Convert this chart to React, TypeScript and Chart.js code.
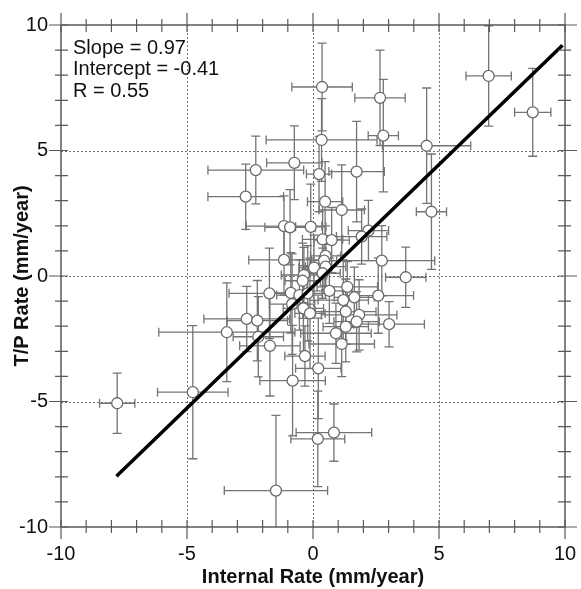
import React, { useEffect, useRef } from "react";
import { Chart, registerables } from "chart.js";

Chart.register(...registerables);

// Internal rate (x) and T/P rate (y), mm/year, with their 1-sigma errors
const internalRate = [
  6.97, 8.72, 0.36, 2.66, 2.79, 0.34, 4.51, -0.74, -2.27, 0.24,
  1.73, -2.67, 0.48, 1.14, 4.7, -1.15, -0.91, -0.09, 2.2, 1.93,
  0.38, 0.74, -1.15, 2.73, 0.5, 0.44, 0.5, 0.04, 0.38, -0.36,
  3.68, -0.41, 1.36, 0.65, -1.73, -0.88, -0.54, -0.21, 2.59, 1.64,
  1.2, -0.83, -0.38, -0.12, 1.3, 1.83, -2.63, -2.21, 1.73, 3.02,
  1.3, -3.42, -2.17, 0.91, -1.71, -0.32, 0.21, -0.81, 1.14, 0.83,
  0.19, -1.47, -7.77, -4.77,
];
const tpRate = [
  7.97, 6.52, 7.53, 7.1, 5.59, 5.42, 5.19, 4.51, 4.22, 4.06,
  4.16, 3.16, 2.96, 2.63, 2.56, 1.99, 1.94, 1.96, 1.81, 1.57,
  1.46, 1.43, 0.64, 0.61, 0.8, 0.61, 0.37, 0.33, 0.11, 0.04,
  -0.05, -0.19, -0.43, -0.59, -0.69, -0.67, -0.76, -0.69, -0.78, -0.85,
  -0.96, -1.12, -1.29, -1.49, -1.42, -1.55, -1.71, -1.78, -1.82, -1.92,
  -2.02, -2.24, -2.42, -2.28, -2.78, -3.19, -3.68, -4.17, -2.71, -6.24,
  -6.49, -8.55, -5.07, -4.63,
];
const internalErr = [
  0.9, 0.72, 1.2, 1.0, 0.6, 2.2, 1.75, 1.1, 1.9, 0.5,
  1.1, 1.5, 0.7, 0.9, 0.6, 1.5, 1.0, 0.6, 0.8, 1.0,
  0.8, 0.7, 1.4, 2.1, 0.6, 0.5, 0.8, 0.6, 0.7, 0.9,
  0.8, 0.7, 1.2, 0.9, 1.6, 0.8, 0.9, 0.7, 1.4, 0.8,
  1.0, 0.9, 0.8, 0.6, 1.2, 1.5, 1.7, 1.2, 0.9, 1.4,
  0.9, 2.7, 1.0, 1.4, 1.2, 0.8, 0.9, 1.3, 1.3, 1.5,
  1.07, 2.05, 0.7, 1.4,
];
const tpErr = [
  2.0, 1.75, 1.75, 1.9, 2.24, 1.65, 2.3, 1.47, 1.35, 1.5,
  2.0, 1.3, 1.6, 1.8, 2.3, 1.2, 1.5, 1.7, 1.2, 1.1,
  1.5, 1.3, 1.4, 1.4, 1.2, 1.0, 0.9, 1.3, 1.0, 1.1,
  1.2, 1.5, 1.0, 1.3, 1.8, 1.6, 1.4, 1.9, 1.5, 1.2,
  1.6, 2.0, 1.7, 2.2, 1.3, 1.4, 1.3, 1.6, 1.2, 0.9,
  1.4, 1.97, 1.6, 1.2, 2.0, 1.2, 2.0, 2.2, 1.3, 1.14,
  1.9, 3.0, 1.2, 2.65,
];

const fitSlope = 0.97;
const fitIntercept = -0.41;
const fitR = 0.55;
const fitRangeX = [-7.8, 9.9];

const axisMin = -10;
const axisMax = 10;
const labelStep = 5;
const gridValues = [-5, 0, 5];
const statLines = [
  `Slope = ${fitSlope.toFixed(2)}`,
  `Intercept = ${fitIntercept.toFixed(2)}`,
  `R = ${fitR.toFixed(2)}`,
];
const xTitle = "Internal Rate (mm/year)";
const yTitle = "T/P Rate (mm/year)";

const FONT = "'Liberation Sans', Arial, Helvetica, sans-serif";

const decorPlugin = {
  id: "decor",
  beforeDatasetsDraw(chart: any) {
    const { ctx, chartArea: a, scales } = chart;
    const xs = scales.x;
    const ys = scales.y;
    ctx.save();
    ctx.beginPath();
    ctx.rect(a.left, a.top, a.right - a.left, a.bottom - a.top);
    ctx.clip();
    // dotted grid
    ctx.strokeStyle = "#707070";
    ctx.lineWidth = 1;
    ctx.setLineDash([2, 2]);
    for (const v of gridValues) {
      const px = Math.round(xs.getPixelForValue(v)) + 0.5;
      ctx.beginPath();
      ctx.moveTo(px, a.top);
      ctx.lineTo(px, a.bottom);
      ctx.stroke();
      const py = Math.round(ys.getPixelForValue(v)) + 0.5;
      ctx.beginPath();
      ctx.moveTo(a.left, py);
      ctx.lineTo(a.right, py);
      ctx.stroke();
    }
    ctx.setLineDash([]);
    // error bars
    ctx.strokeStyle = "#747474";
    ctx.lineWidth = 1.3;
    const cap = 4.5;
    for (let i = 0; i < internalRate.length; i++) {
      const xv = internalRate[i];
      const yv = tpRate[i];
      const px = xs.getPixelForValue(xv);
      const py = ys.getPixelForValue(yv);
      const x0 = xs.getPixelForValue(xv - internalErr[i]);
      const x1 = xs.getPixelForValue(xv + internalErr[i]);
      const y0 = ys.getPixelForValue(yv - tpErr[i]);
      const y1 = ys.getPixelForValue(yv + tpErr[i]);
      ctx.beginPath();
      ctx.moveTo(x0, py);
      ctx.lineTo(x1, py);
      ctx.moveTo(x0, py - cap);
      ctx.lineTo(x0, py + cap);
      ctx.moveTo(x1, py - cap);
      ctx.lineTo(x1, py + cap);
      ctx.moveTo(px, y0);
      ctx.lineTo(px, y1);
      ctx.moveTo(px - cap, y0);
      ctx.lineTo(px + cap, y0);
      ctx.moveTo(px - cap, y1);
      ctx.lineTo(px + cap, y1);
      ctx.stroke();
    }
    ctx.restore();
  },
  afterDraw(chart: any) {
    const { ctx, chartArea: a, scales } = chart;
    const xs = scales.x;
    const ys = scales.y;
    ctx.save();
    ctx.strokeStyle = "#5a5a5a";
    ctx.lineWidth = 1.5;
    ctx.strokeRect(a.left, a.top, a.right - a.left, a.bottom - a.top);
    ctx.lineWidth = 1.2;
    ctx.beginPath();
    for (let v = axisMin; v <= axisMax; v++) {
      const major = v % labelStep === 0;
      const out = major ? 12 : 6;
      const inn = 7;
      const px = xs.getPixelForValue(v);
      const py = ys.getPixelForValue(v);
      ctx.moveTo(px, a.bottom - inn);
      ctx.lineTo(px, a.bottom + out);
      ctx.moveTo(px, a.top + inn);
      ctx.lineTo(px, a.top - out);
      ctx.moveTo(a.left + inn, py);
      ctx.lineTo(a.left - out, py);
      ctx.moveTo(a.right - inn, py);
      ctx.lineTo(a.right + out, py);
    }
    ctx.stroke();

    // stats text
    ctx.fillStyle = "#111";
    ctx.font = `20px ${FONT}`;
    ctx.textAlign = "left";
    ctx.textBaseline = "middle";
    statLines.forEach((t, i) => {
      ctx.fillText(t, a.left + 12, a.top + 23 + i * 21.5);
    });

    // axis titles
    ctx.font = `bold 20px ${FONT}`;
    ctx.textAlign = "center";
    ctx.fillText(xTitle, (a.left + a.right) / 2, 577);
    ctx.translate(22, (a.top + a.bottom) / 2);
    ctx.rotate(-Math.PI / 2);
    ctx.fillText(yTitle, 0, 0);
    ctx.restore();
  },
};

export default function App() {
  const canvasRef = useRef<HTMLCanvasElement | null>(null);

  useEffect(() => {
    if (!canvasRef.current) return;
    const points = internalRate.map((x, i) => ({ x, y: tpRate[i] }));
    const fitLine = fitRangeX.map((x) => ({ x, y: fitSlope * x + fitIntercept }));
    const tickFont = { family: FONT, size: 20 };
    const chart = new Chart(canvasRef.current, {
      type: "scatter",
      data: {
        datasets: [
          {
            type: "line",
            data: fitLine,
            borderColor: "#000",
            borderWidth: 3.5,
            pointRadius: 0,
            order: 0,
          } as any,
          {
            data: points,
            backgroundColor: "#ffffff",
            borderColor: "#6a6a6a",
            borderWidth: 1.3,
            pointRadius: 5.5,
            order: 1,
          },
        ],
      },
      options: {
        animation: false,
        responsive: false,
        devicePixelRatio: 1,
        layout: { padding: { left: 0, top: 25, right: 16, bottom: 0 } },
        plugins: { legend: { display: false }, tooltip: { enabled: false } },
        scales: {
          x: {
            type: "linear",
            min: axisMin,
            max: axisMax,
            ticks: { stepSize: labelStep, font: tickFont, color: "#111", padding: 15, maxRotation: 0 },
            grid: { display: false, drawTicks: false },
            border: { display: false },
            afterFit: (s: any) => {
              s.height = 62;
              s.paddingLeft = 0;
              s.paddingRight = 0;
            },
          },
          y: {
            type: "linear",
            min: axisMin,
            max: axisMax,
            ticks: { stepSize: labelStep, font: tickFont, color: "#111", padding: 13 },
            grid: { display: false, drawTicks: false },
            border: { display: false },
            afterFit: (s: any) => {
              s.width = 61;
              s.paddingTop = 0;
              s.paddingBottom = 0;
            },
          },
        },
      },
      plugins: [decorPlugin],
    });
    return () => chart.destroy();
  }, []);

  return (
    <div style={{ position: "absolute", left: 0, top: 0, width: 581, height: 589, background: "#fff" }}>
      <canvas ref={canvasRef} width={581} height={589} style={{ display: "block" }} />
    </div>
  );
}
